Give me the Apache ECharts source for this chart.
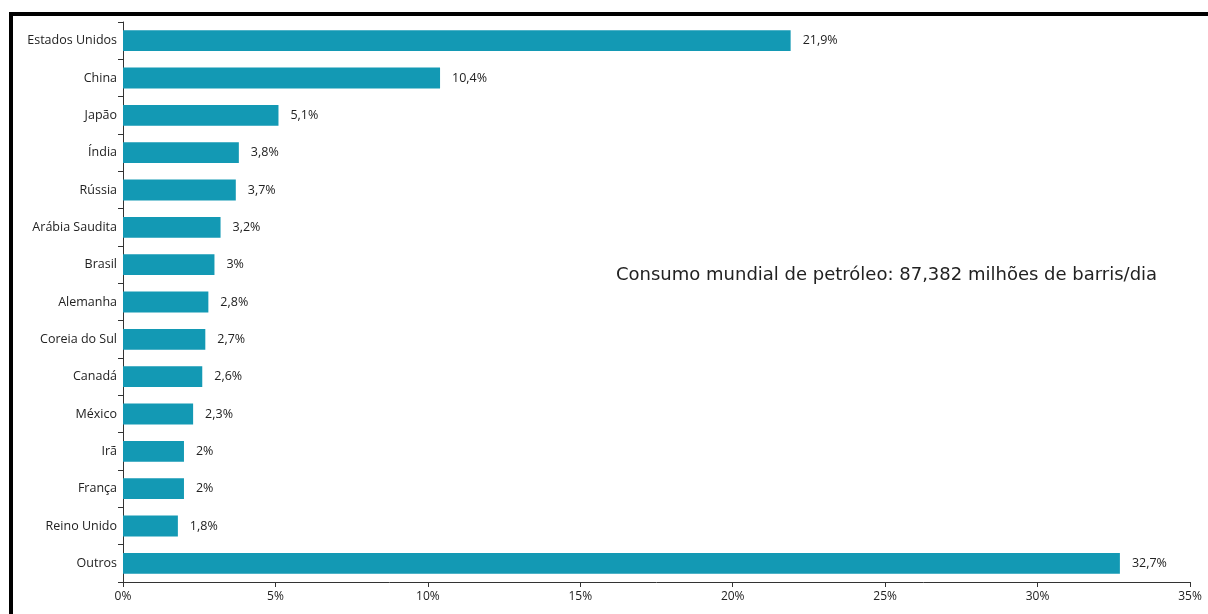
<!DOCTYPE html>
<html>
<head>
<meta charset="utf-8">
<script src="https://cdn.jsdelivr.net/npm/echarts@6/dist/echarts.min.js"></script>
<style>
  html, body { margin: 0; padding: 0; background: #fff; }
  #frame { position: absolute; left: 0; top: 0; width: 1208px; height: 614px; }
  #edge-top { position: absolute; left: 9px; top: 12px; width: 1199px; height: 4px; background: #000; }
  #edge-left { position: absolute; left: 9px; top: 12px; width: 4px; height: 602px; background: #000; }
  #chart { position: absolute; left: 0; top: 0; width: 1208px; height: 614px; }
</style>
</head>
<body>
<div id="frame">
  <div id="chart"></div>
  <div id="edge-top"></div>
  <div id="edge-left"></div>
</div>
<script>
// Share of world oil consumption by country (%)
const countries = [
  'Estados Unidos', 'China', 'Japão', 'Índia', 'Rússia', 'Arábia Saudita', 'Brasil',
  'Alemanha', 'Coreia do Sul', 'Canadá', 'México', 'Irã', 'França', 'Reino Unido', 'Outros'
];
const shares = [21.9, 10.4, 5.1, 3.8, 3.7, 3.2, 3, 2.8, 2.7, 2.6, 2.3, 2, 2, 1.8, 32.7];
const xTicks = [0, 5, 10, 15, 20, 25, 30, 35];
const note = 'Consumo mundial de petróleo: 87,382 milhões de barris/dia';

const FONT = "'Open Sans', 'Noto Sans', sans-serif";
const fmt = v => String(v).replace('.', ',') + '%';

const chart = echarts.init(document.getElementById('chart'), null, { renderer: 'canvas' });
chart.setOption({
  animation: false,
  backgroundColor: '#ffffff',
  grid: { left: 123, right: 18, top: 22, bottom: 32, containLabel: false },
  xAxis: {
    type: 'value',
    min: xTicks[0],
    max: xTicks[xTicks.length - 1],
    interval: 5,
    axisLine: { show: true, lineStyle: { color: '#333', width: 1 } },
    axisTick: { show: true, length: 5, lineStyle: { color: '#333' } },
    splitLine: { show: false },
    axisLabel: { formatter: v => v + '%', color: '#222', fontFamily: FONT, fontSize: 12, margin: 9 }
  },
  yAxis: {
    type: 'category',
    data: countries,
    inverse: true,
    axisLine: { show: true, lineStyle: { color: '#333', width: 1 } },
    axisTick: { show: true, length: 5, lineStyle: { color: '#333' } },
    axisLabel: { color: '#222', fontFamily: FONT, fontSize: 12.5, margin: 6 }
  },
  series: [{
    type: 'bar',
    data: shares,
    barCategoryGap: '44%',
    itemStyle: { color: '#1399b4' },
    label: {
      show: true,
      position: 'right',
      distance: 12,
      formatter: p => fmt(p.value),
      color: '#222',
      fontFamily: FONT,
      fontSize: 12.5
    }
  }],
  graphic: [{
    type: 'text',
    left: 616,
    top: 266,
    style: { text: note, fill: '#222', font: "18px 'DejaVu Sans', 'Noto Sans', sans-serif" }
  }]
});
</script>
</body>
</html>
